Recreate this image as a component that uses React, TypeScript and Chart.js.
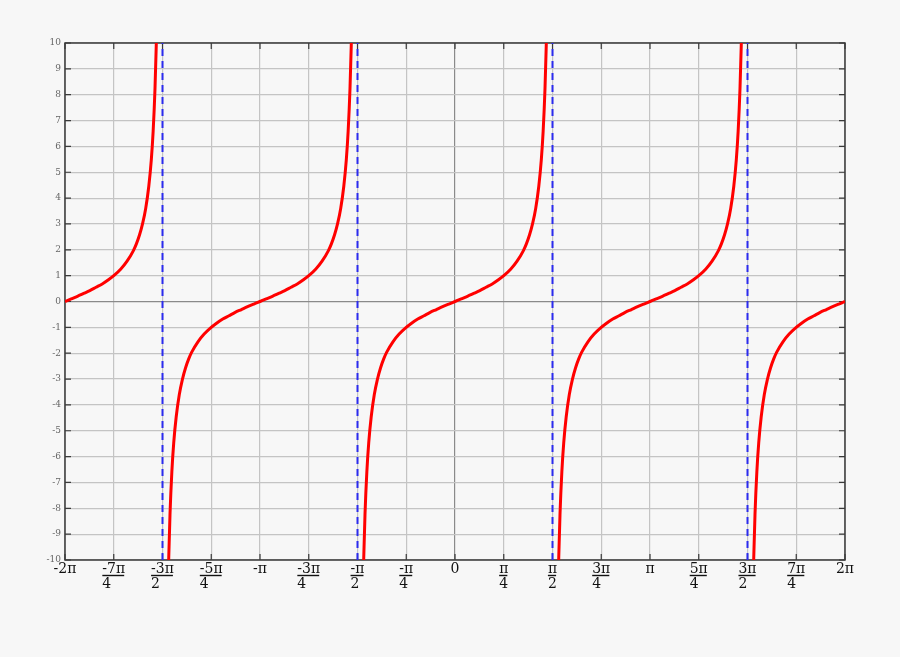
import { useEffect, useRef } from 'react';
import { Chart, registerables } from 'chart.js';

Chart.register(...registerables);

const PI = Math.PI;

// x tick positions in quarters of π, with their labels (numerator / denominator)
const xTickQuarters = [-8, -7, -6, -5, -4, -3, -2, -1, 0, 1, 2, 3, 4, 5, 6, 7, 8];
const xTickNumerators = ['-2π', '-7π', '-3π', '-5π', '-π', '-3π', '-π', '-π', '0', 'π', 'π', '3π', 'π', '5π', '3π', '7π', '2π'];
const xTickDenominators = ['', '4', '2', '4', '', '4', '2', '4', '', '4', '2', '4', '', '4', '2', '4', ''];

// One branch of the curve: offsets (radians) from the branch centre and the values
const branchOffsets = [
  -1.49, -1.47, -1.45, -1.42, -1.39, -1.35, -1.3, -1.25, -1.2, -1.15, -1.1, -1.0, -0.9, -0.8, -0.7, -0.6, -0.5, -0.4, -0.3, -0.2, -0.1,
  0,
  0.1, 0.2, 0.3, 0.4, 0.5, 0.6, 0.7, 0.8, 0.9, 1.0, 1.1, 1.15, 1.2, 1.25, 1.3, 1.35, 1.39, 1.42, 1.45, 1.47, 1.49,
];
const branchValues = [
  -12.35, -9.89, -8.24, -6.58, -5.47, -4.46, -3.6, -3.01, -2.57, -2.23, -1.96, -1.56, -1.26, -1.03, -0.84, -0.68, -0.55, -0.42, -0.31, -0.2, -0.1,
  0,
  0.1, 0.2, 0.31, 0.42, 0.55, 0.68, 0.84, 1.03, 1.26, 1.56, 1.96, 2.23, 2.57, 3.01, 3.6, 4.46, 5.47, 6.58, 8.24, 9.89, 12.35,
];
// branch centres, in multiples of π
const branchCentres = [-2, -1, 0, 1, 2];
// vertical asymptotes, in multiples of π
const asymptotes = [-1.5, -0.5, 0.5, 1.5];

const X_MIN = -2 * PI;
const X_MAX = 2 * PI;
const Y_MIN = -10;
const Y_MAX = 10;

function buildCurve() {
  const pts: { x: number; y: number | null }[] = [];
  branchCentres.forEach((c) => {
    let last = 0;
    branchOffsets.forEach((o, i) => {
      const x = c * PI + o;
      if (x >= X_MIN - 1e-9 && x <= X_MAX + 1e-9) {
        pts.push({ x, y: branchValues[i] });
        last = x;
      }
    });
    pts.push({ x: last + 1e-6, y: null });
  });
  return pts;
}

const framePlugin = {
  id: 'frame',
  beforeDraw(chart: any) {
    const { ctx, width, height } = chart;
    ctx.save();
    ctx.fillStyle = '#f7f7f7';
    ctx.fillRect(0, 0, width, height);
    ctx.restore();
  },
  beforeDatasetsDraw(chart: any) {
    const { ctx, chartArea } = chart;
    const { left, right, top, bottom } = chartArea;
    const xs = chart.scales.x;
    const ys = chart.scales.y;
    ctx.save();
    ctx.strokeStyle = '#3a3a3a';
    ctx.lineWidth = 1.5;
    ctx.strokeRect(left, top, right - left, bottom - top);
    ctx.lineWidth = 1.2;
    const tl = 6;
    xTickQuarters.forEach((q) => {
      const px = xs.getPixelForValue((q * PI) / 4);
      ctx.beginPath();
      ctx.moveTo(px, top);
      ctx.lineTo(px, top + tl);
      ctx.moveTo(px, bottom);
      ctx.lineTo(px, bottom - tl);
      ctx.stroke();
    });
    for (let v = Y_MIN; v <= Y_MAX; v++) {
      const py = ys.getPixelForValue(v);
      ctx.beginPath();
      ctx.moveTo(left, py);
      ctx.lineTo(left + tl, py);
      ctx.moveTo(right, py);
      ctx.lineTo(right - tl, py);
      ctx.stroke();
    }
    ctx.restore();
  },
  afterDraw(chart: any) {
    const { ctx, chartArea } = chart;
    const xs = chart.scales.x;
    const base = chartArea.bottom + 13;
    ctx.save();
    ctx.font = '14px "DejaVu Serif"';
    ctx.fillStyle = '#111';
    ctx.strokeStyle = '#111';
    ctx.textBaseline = 'alphabetic';
    xTickQuarters.forEach((q, i) => {
      const px = xs.getPixelForValue((q * PI) / 4);
      const num = xTickNumerators[i];
      const den = xTickDenominators[i];
      const w = ctx.measureText(num).width;
      const x0 = px - w / 2;
      ctx.textAlign = 'left';
      ctx.fillText(num, x0, base);
      if (den) {
        ctx.lineWidth = 1.4;
        ctx.beginPath();
        ctx.moveTo(x0, base + 2.5);
        ctx.lineTo(x0 + w - 1, base + 2.5);
        ctx.stroke();
        ctx.fillText(den, x0, base + 15);
      }
    });
    ctx.restore();
  },
};

export default function App() {
  const ref = useRef<HTMLCanvasElement | null>(null);

  useEffect(() => {
    document.body.style.margin = '0';
    document.body.style.background = '#f7f7f7';
    const canvas = ref.current;
    if (!canvas) return;

    const datasets: any[] = asymptotes.map((a) => ({
      data: [
        { x: a * PI, y: Y_MIN },
        { x: a * PI, y: Y_MAX },
      ],
      borderColor: '#2b2bee',
      borderWidth: 2,
      borderDash: [7, 5],
      pointRadius: 0,
      fill: false,
      order: 2,
    }));
    datasets.push({
      data: buildCurve(),
      borderColor: '#ff0000',
      borderWidth: 3,
      pointRadius: 0,
      fill: false,
      spanGaps: false,
      cubicInterpolationMode: 'monotone',
      order: 1,
    });

    const chart = new Chart(canvas, {
      type: 'line',
      data: { datasets },
      options: {
        animation: false,
        responsive: true,
        maintainAspectRatio: false,
        layout: { padding: { top: 43, right: 55, left: 0, bottom: 0 } },
        plugins: { legend: { display: false }, tooltip: { enabled: false } },
        scales: {
          x: {
            type: 'linear',
            min: X_MIN,
            max: X_MAX,
            afterBuildTicks: (scale: any) => {
              scale.ticks = xTickQuarters.map((q) => ({ value: (q * PI) / 4 }));
            },
            afterFit: (scale: any) => {
              scale.height = 97;
            },
            ticks: { display: false },
            border: { display: false },
            grid: {
              drawTicks: false,
              lineWidth: 1.2,
              color: (c: any) => (c.tick && Math.abs(c.tick.value) < 1e-9 ? '#8a8a8a' : '#c4c4c4'),
            },
          },
          y: {
            type: 'linear',
            min: Y_MIN,
            max: Y_MAX,
            afterFit: (scale: any) => {
              scale.width = 65;
            },
            ticks: {
              stepSize: 1,
              padding: 4,
              color: '#666',
              font: { family: '"DejaVu Serif"', size: 9 },
            },
            border: { display: false },
            grid: {
              drawTicks: false,
              lineWidth: 1.2,
              color: (c: any) => (c.tick && c.tick.value === 0 ? '#8a8a8a' : '#c4c4c4'),
            },
          },
        },
      },
      plugins: [framePlugin],
    });
    return () => chart.destroy();
  }, []);

  return (
    <div style={{ position: 'absolute', left: 0, top: 0, width: 900, height: 657, background: '#f7f7f7' }}>
      <canvas ref={ref} />
    </div>
  );
}
